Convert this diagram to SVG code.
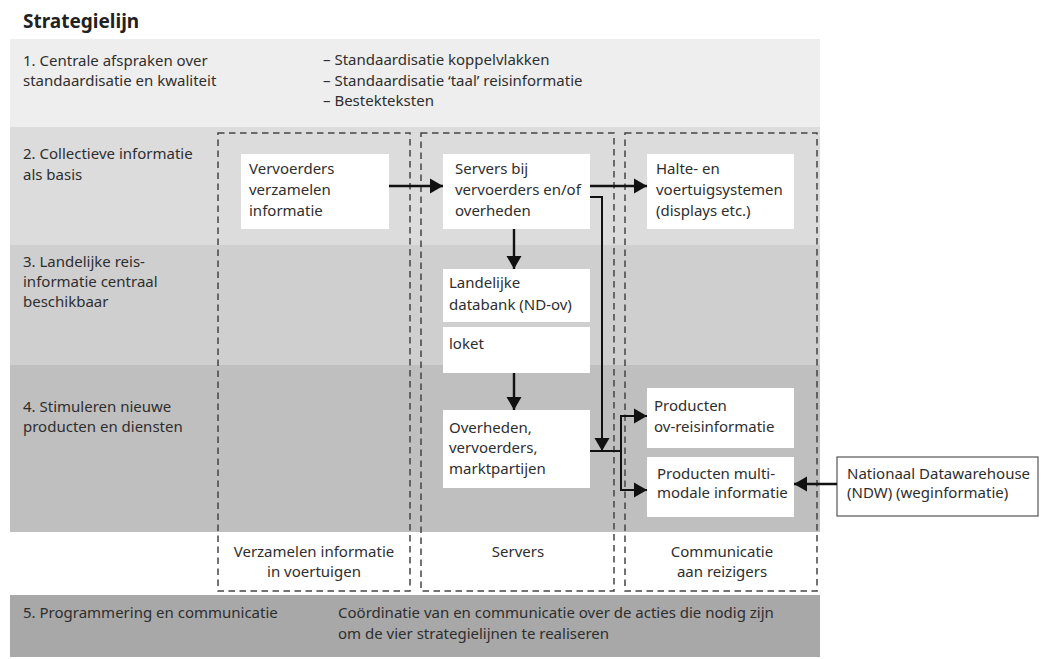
<svg xmlns="http://www.w3.org/2000/svg" width="1043" height="659" viewBox="0 0 1043 659">
<style>
text{font-family:"Noto Sans","Open Sans",sans-serif;font-size:15px;fill:#2e2e2e}
.title{font-size:19px;font-weight:bold;fill:#222}
.c{text-anchor:middle}
.box{fill:#fff}
.col{fill:none;stroke:#444;stroke-width:1.5;stroke-dasharray:6.5 4.5}
.arr{fill:none;stroke:#111;stroke-width:2.4}
.thin{fill:none;stroke:#111;stroke-width:2}
</style>
<defs>
<marker id="ah" markerUnits="userSpaceOnUse" markerWidth="14" markerHeight="16" viewBox="0 0 14 16" refX="13" refY="8" orient="auto">
<path d="M0,0.5 L13,8 L0,15.5 Z" fill="#111"/>
</marker>
</defs>
<rect width="1043" height="659" fill="#fff"/>
<g id="bands">
<rect x="10" y="39" width="810" height="88" fill="#eeeeee"/>
<rect x="10" y="127" width="810" height="118" fill="#dcdcdc"/>
<rect x="10" y="245" width="810" height="120" fill="#cfcfcf"/>
<rect x="10" y="365" width="810" height="167" fill="#bfbfbf"/>
<rect x="10" y="595" width="810" height="62" fill="#a8a8a8"/>
</g>
<text class="title" x="23" y="28">Strategielijn</text>
<g id="band-labels">
<text x="23" y="66">1. Centrale afspraken over</text>
<text x="23" y="86">standaardisatie en kwaliteit</text>
<text x="323" y="65">– Standaardisatie koppelvlakken</text>
<text x="323" y="86">– Standaardisatie ‘taal’ reisinformatie</text>
<text x="323" y="106">– Bestekteksten</text>
<text x="23" y="159">2. Collectieve informatie</text>
<text x="23" y="180">als basis</text>
<text x="23" y="267">3. Landelijke reis-</text>
<text x="23" y="287">informatie centraal</text>
<text x="23" y="307">beschikbaar</text>
<text x="23" y="412">4. Stimuleren nieuwe</text>
<text x="23" y="432">producten en diensten</text>
<text x="23" y="618">5. Programmering en communicatie</text>
<text x="338" y="618">Coördinatie van en communicatie over de acties die nodig zijn</text>
<text x="338" y="639">om de vier strategielijnen te realiseren</text>
</g>
<g id="columns">
<rect class="col" x="218" y="133" width="192" height="458"/>
<rect class="col" x="421" y="133" width="193" height="458"/>
<rect class="col" x="625" y="133" width="192" height="458"/>
<text class="c" x="314" y="557">Verzamelen informatie</text>
<text class="c" x="314" y="577">in voertuigen</text>
<text class="c" x="518" y="557">Servers</text>
<text class="c" x="722" y="557">Communicatie</text>
<text class="c" x="722" y="577">aan reizigers</text>
</g>
<g id="n-vervoerders">
<rect class="box" x="241" y="154" width="148" height="75"/>
<text x="249" y="174">Vervoerders</text>
<text x="249" y="195">verzamelen</text>
<text x="249" y="216">informatie</text>
</g>
<g id="n-servers">
<rect class="box" x="443" y="154" width="147" height="75"/>
<text x="455" y="174">Servers bij</text>
<text x="455" y="195">vervoerders en/of</text>
<text x="455" y="216">overheden</text>
</g>
<g id="n-halte">
<rect class="box" x="647" y="154" width="147" height="75"/>
<text x="656" y="174">Halte- en</text>
<text x="656" y="195">voertuigsystemen</text>
<text x="656" y="216">(displays etc.)</text>
</g>
<g id="n-databank">
<rect class="box" x="443" y="269" width="147" height="53"/>
<text x="449" y="288">Landelijke</text>
<text x="449" y="310">databank (ND-ov)</text>
</g>
<g id="n-loket">
<rect class="box" x="443" y="327" width="147" height="46"/>
<text x="449" y="349">loket</text>
</g>
<g id="n-overheden">
<rect class="box" x="443" y="410" width="147" height="78"/>
<text x="449" y="433">Overheden,</text>
<text x="449" y="453">vervoerders,</text>
<text x="449" y="474">marktpartijen</text>
</g>
<g id="n-producten-ov">
<rect class="box" x="647" y="388" width="147" height="60"/>
<text x="654" y="411">Producten</text>
<text x="654" y="432">ov-reisinformatie</text>
</g>
<g id="n-producten-multi">
<rect class="box" x="647" y="457" width="147" height="60"/>
<text x="657" y="479">Producten multi-</text>
<text x="657" y="498">modale informatie</text>
</g>
<g id="n-ndw">
<rect x="837" y="457" width="201" height="59" fill="#fff" stroke="#555" stroke-width="1.2"/>
<text x="847" y="479">Nationaal Datawarehouse</text>
<text x="847" y="498">(NDW) (weginformatie)</text>
</g>
<g id="connectors">
<line class="arr" x1="389" y1="186" x2="443" y2="186" marker-end="url(#ah)"/>
<line class="arr" x1="590" y1="186" x2="647" y2="186" marker-end="url(#ah)"/>
<line class="arr" x1="514" y1="229" x2="514" y2="269" marker-end="url(#ah)"/>
<line class="arr" x1="514" y1="373" x2="514" y2="410" marker-end="url(#ah)"/>
<polyline class="thin" points="590,197 602,197 602,451" marker-end="url(#ah)"/>
<line class="thin" x1="590" y1="451" x2="621" y2="451"/>
<polyline class="thin" points="640,416 621,416 621,490 640,490"/>
<line class="thin" x1="625" y1="416" x2="647" y2="416" marker-end="url(#ah)"/>
<line class="thin" x1="625" y1="490" x2="647" y2="490" marker-end="url(#ah)"/>
<line class="arr" x1="837" y1="484" x2="794" y2="484" marker-end="url(#ah)"/>
</g>
</svg>
